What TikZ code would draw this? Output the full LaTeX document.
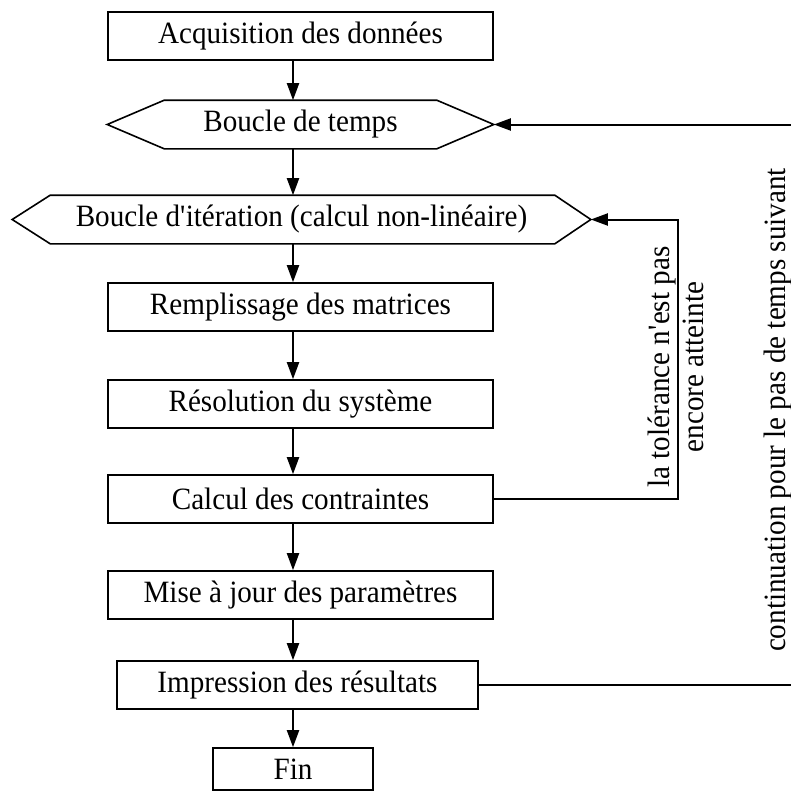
\documentclass[tikz,border=0pt]{standalone}
\usepackage{fontspec}
\setmainfont[FakeStretch=0.94]{Liberation Serif}
\usetikzlibrary{arrows.meta}
\begin{document}
\begin{tikzpicture}[x=1pt,y=-1pt, line width=1.6pt,
  txt/.style={font=\fontsize{31}{34}\selectfont},
  box/.style={txt, draw, inner sep=0pt, minimum width=385pt, minimum height=48pt},
  hexlabel/.style={txt, inner sep=0pt, minimum height=47pt},
  arr/.style={line width=2pt, -{Triangle[length=17pt,width=12pt]}}]
\useasboundingbox (0,0) rectangle (791,792);
\clip (0,0) rectangle (791,792);

\coordinate (ax) at (293,0);
\coordinate (lx) at (678,0);
\coordinate (rx) at (800,0);

\node[box] (acq) at (300.5,36) {Acquisition des données};

\node[hexlabel, minimum width=385pt] (temps) at (300.5,124.5) {Boucle de temps};
\draw ([xshift=57pt]temps.north west) -- ([xshift=-57pt]temps.north east) -- (temps.east)
  -- ([xshift=-57pt]temps.south east) -- ([xshift=57pt]temps.south west) -- (temps.west) -- cycle;

\node[hexlabel, minimum width=577pt] (iter) at (301.5,219.5) {Boucle d\textquotesingle itération (calcul non-linéaire)};
\draw ([xshift=38pt]iter.north west) -- ([xshift=-36pt]iter.north east) -- (iter.east)
  -- ([xshift=-36pt]iter.south east) -- ([xshift=38pt]iter.south west) -- (iter.west) -- cycle;

\node[box] (rempl) at (300.5,307) {Remplissage des matrices};
\node[box] (reso) at (300.5,404) {Résolution du système};
\node[box] (calc) at (300.5,499) {Calcul des contraintes};
\node[box] (mise) at (300.5,595) {Mise à jour des paramètres};
\node[box, minimum width=361pt] (imp) at (297.5,685) {Impression des résultats};
\node[box, minimum width=160pt, minimum height=42pt] (fin) at (293,769) {Fin};

\draw[arr] (acq.south -| ax) -- (temps.north -| ax);
\draw[arr] (temps.south -| ax) -- (iter.north -| ax);
\draw[arr] (iter.south -| ax) -- (rempl.north -| ax);
\draw[arr] (rempl.south -| ax) -- (reso.north -| ax);
\draw[arr] (reso.south -| ax) -- (calc.north -| ax);
\draw[arr] (calc.south -| ax) -- (mise.north -| ax);
\draw[arr] (mise.south -| ax) -- (imp.north -| ax);
\draw[arr] (imp.south -| ax) -- (fin.north -| ax);

\draw[arr] (calc.east) -| (lx |- iter.east) -- (iter.east);
\draw[arr] (imp.east) -| (rx |- temps.east) -- (temps.east);

\node[txt, rotate=90, align=center, inner sep=0pt] (tol) at (676,367)
  {la tolérance n\textquotesingle est pas\\encore atteinte};
\node[txt, rotate=90, inner sep=0pt] (cont) at (778,410)
  {continuation pour le pas de temps suivant};
\end{tikzpicture}
\end{document}
